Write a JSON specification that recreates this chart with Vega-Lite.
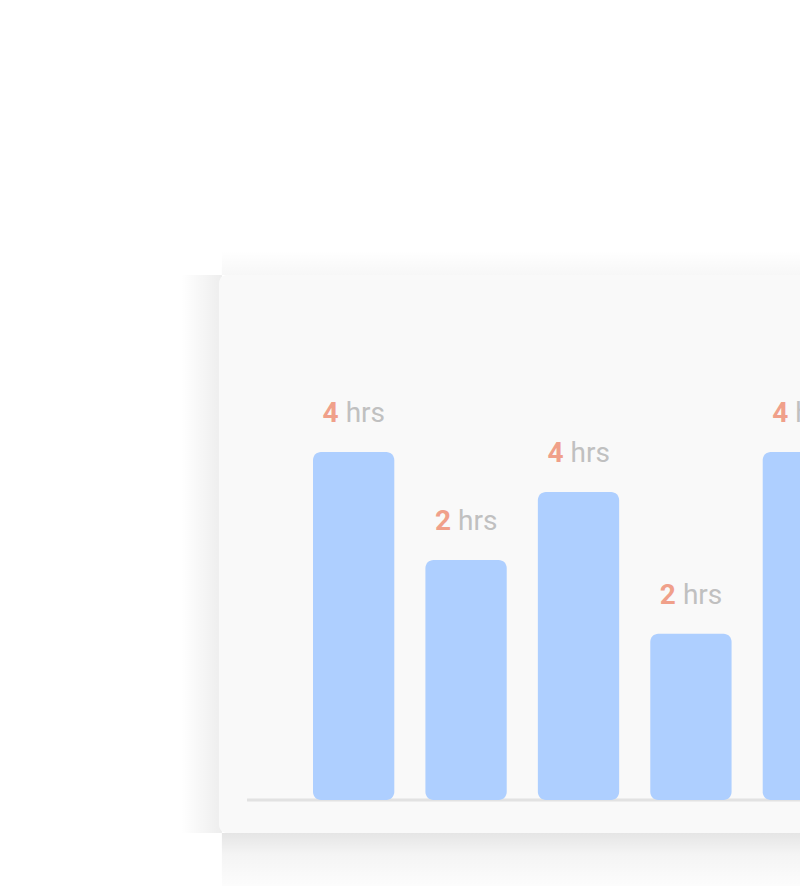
{
  "$schema": "https://vega.github.io/schema/vega-lite/v6.json",
  "autosize": "none",
  "width": 581,
  "height": 558,
  "padding": {"left": 219, "top": 275, "right": 0, "bottom": 53},
  "background": "#ffffff",
  "config": {"view": {"stroke": null, "fill": null}},
  "resolve": {"scale": {"x": "independent"}},
  "layer": [
    {
      "data": {"values": [{}]},
      "layer": [
        {
          "mark": {"type": "rect", "fill": {"gradient": "linear", "x1": 0, "y1": 1, "x2": 0, "y2": 0, "stops": [{"offset": 0, "color": "rgba(0,0,0,0.03)"}, {"offset": 1, "color": "rgba(0,0,0,0)"}]}},
          "encoding": {
            "x": {"datum": 0.005, "type": "quantitative", "scale": {"domain": [0, 1], "nice": false, "zero": false}, "axis": null},
            "x2": {"datum": 1.05},
            "y": {"datum": 6.0345, "type": "quantitative", "scale": {"domain": [-0.3793, 6.0345], "nice": false, "zero": false}, "axis": null},
            "y2": {"datum": 6.32}
          }
        },
        {
          "mark": {"type": "rect", "fill": {"gradient": "linear", "x1": 0, "y1": 0, "x2": 0, "y2": 1, "stops": [{"offset": 0, "color": "rgba(0,0,0,0.10)"}, {"offset": 0.4, "color": "rgba(0,0,0,0.045)"}, {"offset": 1, "color": "rgba(0,0,0,0.01)"}]}},
          "encoding": {
            "x": {"datum": 0.005, "type": "quantitative", "axis": null},
            "x2": {"datum": 1.05},
            "y": {"datum": -0.3793, "type": "quantitative", "axis": null},
            "y2": {"datum": -0.99}
          }
        },
        {
          "mark": {"type": "rect", "fill": {"gradient": "linear", "x1": 0, "y1": 0, "x2": 1, "y2": 0, "stops": [{"offset": 0, "color": "rgba(0,0,0,0)"}, {"offset": 1, "color": "rgba(0,0,0,0.07)"}]}},
          "encoding": {
            "x": {"datum": -0.065, "type": "quantitative", "axis": null},
            "x2": {"datum": 0.005},
            "y": {"datum": 6.0345, "type": "quantitative", "axis": null},
            "y2": {"datum": -0.3793}
          }
        },
        {
          "mark": {"type": "rect", "fill": "#f9f9f9", "cornerRadius": 8},
          "encoding": {
            "x": {"datum": 0, "type": "quantitative", "axis": null},
            "x2": {"datum": 1.05},
            "y": {"datum": 6.0345, "type": "quantitative", "axis": null},
            "y2": {"datum": -0.3793}
          }
        },
        {
          "mark": {"type": "rule", "color": "#e2e2e2", "strokeWidth": 3},
          "encoding": {
            "x": {"datum": 0.0482, "type": "quantitative", "axis": null},
            "x2": {"datum": 1.05},
            "y": {"datum": 0, "type": "quantitative", "axis": null}
          }
        }
      ]
    },
    {
      "data": {"values": [
        {"day": "Mon", "hours": 4.0, "label": "4"},
        {"day": "Tue", "hours": 2.76, "label": "2"},
        {"day": "Wed", "hours": 3.54, "label": "4"},
        {"day": "Thu", "hours": 1.91, "label": "2"},
        {"day": "Fri", "hours": 4.0, "label": "4"}
      ]},
      "layer": [
        {
          "mark": {"type": "bar", "color": "#aecfff", "cornerRadius": 8},
          "encoding": {
            "x": {"field": "day", "type": "nominal", "sort": null, "axis": null, "scale": {"range": [94, 625], "paddingInner": 0.277, "paddingOuter": 0}},
            "y": {"field": "hours", "type": "quantitative", "axis": null},
            "y2": {"datum": 0}
          }
        },
        {
          "mark": {"type": "text", "font": "Roboto", "fontSize": 28, "fontWeight": "bold", "color": "#f0a08a", "align": "right", "baseline": "alphabetic", "dx": -15, "dy": -30},
          "encoding": {
            "x": {"field": "day", "type": "nominal", "sort": null, "axis": null},
            "y": {"field": "hours", "type": "quantitative", "axis": null},
            "text": {"field": "label"}
          }
        },
        {
          "mark": {"type": "text", "font": "Roboto", "fontSize": 28, "color": "#c0c0c0", "align": "left", "baseline": "alphabetic", "dx": -8, "dy": -30, "text": "hrs"},
          "encoding": {
            "x": {"field": "day", "type": "nominal", "sort": null, "axis": null},
            "y": {"field": "hours", "type": "quantitative", "axis": null}
          }
        }
      ]
    }
  ]
}
